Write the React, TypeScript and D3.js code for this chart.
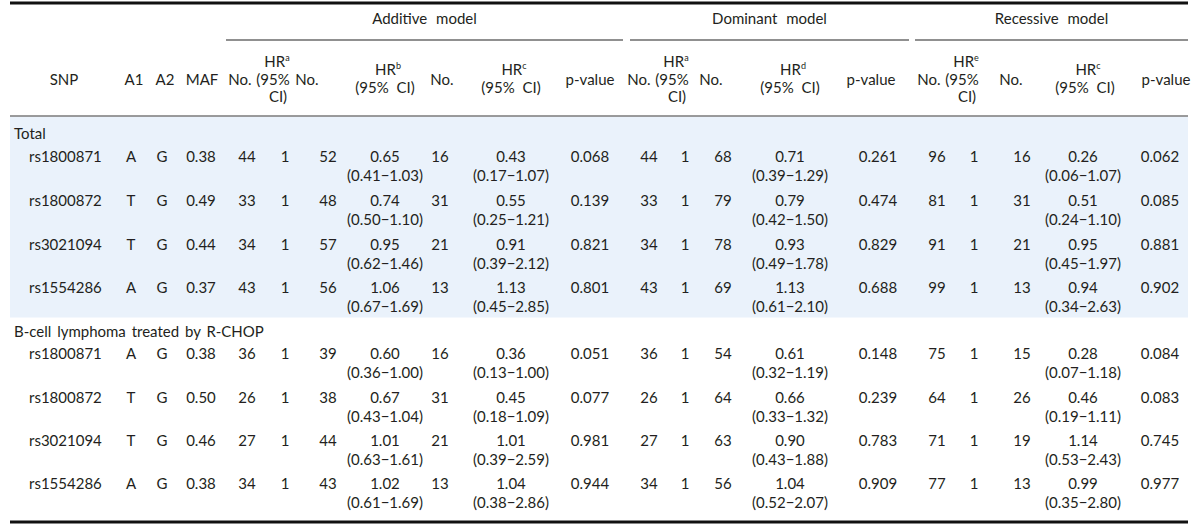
import React from "react";
import * as d3 from "d3";

// ---------- data ----------
const groups = ["Total", "B-cell lymphoma treated by R-CHOP"];
const snps = ["rs1800871", "rs1800872", "rs3021094", "rs1554286"];
const allele1 = ["A", "T", "T", "A"];
const allele2 = ["G", "G", "G", "G"];
const maf = [
  ["0.38", "0.49", "0.44", "0.37"],
  ["0.38", "0.50", "0.46", "0.38"],
];

// Additive model
const addNo1 = [[44, 33, 34, 43], [36, 26, 27, 34]];
const addNo2 = [[52, 48, 57, 56], [39, 38, 44, 43]];
const addHr2 = [["0.65", "0.74", "0.95", "1.06"], ["0.60", "0.67", "1.01", "1.02"]];
const addCi2 = [
  ["0.41−1.03", "0.50−1.10", "0.62−1.46", "0.67−1.69"],
  ["0.36−1.00", "0.43−1.04", "0.63−1.61", "0.61−1.69"],
];
const addNo3 = [[16, 31, 21, 13], [16, 31, 21, 13]];
const addHr3 = [["0.43", "0.55", "0.91", "1.13"], ["0.36", "0.45", "1.01", "1.04"]];
const addCi3 = [
  ["0.17−1.07", "0.25−1.21", "0.39−2.12", "0.45−2.85"],
  ["0.13−1.00", "0.18−1.09", "0.39−2.59", "0.38−2.86"],
];
const addP = [["0.068", "0.139", "0.821", "0.801"], ["0.051", "0.077", "0.981", "0.944"]];

// Dominant model
const domNo1 = [[44, 33, 34, 43], [36, 26, 27, 34]];
const domNo2 = [[68, 79, 78, 69], [54, 64, 63, 56]];
const domHr = [["0.71", "0.79", "0.93", "1.13"], ["0.61", "0.66", "0.90", "1.04"]];
const domCi = [
  ["0.39−1.29", "0.42−1.50", "0.49−1.78", "0.61−2.10"],
  ["0.32−1.19", "0.33−1.32", "0.43−1.88", "0.52−2.07"],
];
const domP = [["0.261", "0.474", "0.829", "0.688"], ["0.148", "0.239", "0.783", "0.909"]];

// Recessive model
const recNo1 = [[96, 81, 91, 99], [75, 64, 71, 77]];
const recNo2 = [[16, 31, 21, 13], [15, 26, 19, 13]];
const recHr = [["0.26", "0.51", "0.95", "0.94"], ["0.28", "0.46", "1.14", "0.99"]];
const recCi = [
  ["0.06−1.07", "0.24−1.10", "0.45−1.97", "0.34−2.63"],
  ["0.07−1.18", "0.19−1.11", "0.53−2.43", "0.35−2.80"],
];
const recP = [["0.062", "0.085", "0.881", "0.902"], ["0.084", "0.083", "0.745", "0.977"]];

const models = ["Additive model", "Dominant model", "Recessive model"];

// ---------- layout ----------
const W = 1200;
const H = 527;
const FONT = "Lato, 'Open Sans', 'Noto Sans', sans-serif";
const FS = 15;
const TXT = "#231f20";

const colKeys = [
  "snp", "a1", "a2", "maf",
  "addNo1", "addHr1", "addNo2", "addHr2", "addNo3", "addHr3", "addP",
  "domNo1", "domHr1", "domNo2", "domHr2", "domP",
  "recNo1", "recHr1", "recNo2", "recHr2", "recP",
];
const dataX = d3.scaleOrdinal<string, number>().domain(colKeys).range([
  29, 131, 162, 201,
  247, 285, 328, 385, 440, 511, 590,
  649, 685, 723, 790, 878,
  937, 974, 1022, 1083, 1160,
]);
const headX = d3.scaleOrdinal<string, number>().domain(colKeys).range([
  64, 134, 165, 202,
  240, 273, 307, 385, 442, 511, 590,
  639, 672, 711, 790, 871,
  929, 962, 1011, 1085, 1166,
]);

const modelSpan = d3.scaleOrdinal<string, [number, number]>().domain(models).range([
  [226, 623],
  [630, 909],
  [915, 1188],
]);

const groupLabelY = d3.scaleOrdinal<string, number>().domain(groups).range([134, 332]);
const rowYs = [
  d3.scaleLinear().domain([0, 3]).range([157, 288]),
  d3.scaleLinear().domain([0, 3]).range([354, 484]),
];
const CI_DY = 19;

const T = ({ x, y, children, anchor = "middle", size = FS, ws = 0 }: any) => (
  <text
    x={x}
    y={y}
    dy="0.35em"
    textAnchor={anchor}
    fontSize={size}
    fill={TXT}
    fontFamily={FONT}
    wordSpacing={ws}
  >
    {children}
  </text>
);

const HR = ({ x, y, sup }: any) => (
  <text x={x} y={y} dy="0.35em" textAnchor="middle" fontSize={FS} fill={TXT} fontFamily={FONT}>
    HR
    <tspan fontSize={9} dy="-6">{sup}</tspan>
  </text>
);

export default function App() {
  const head3 = (key: string, sup: string) => {
    const x = headX(key);
    return (
      <g key={key}>
        <HR x={x + 4} y={62} sup={sup} />
        <T x={x} y={80}>(95%</T>
        <T x={x + 5} y={97}>CI)</T>
      </g>
    );
  };
  const head2 = (key: string, sup: string) => {
    const x = headX(key);
    return (
      <g key={key}>
        <HR x={x + 3} y={70} sup={sup} />
        <T x={x} y={88} ws={4}>(95% CI)</T>
      </g>
    );
  };
  const head1 = (key: string, label: string) => (
    <T key={key} x={headX(key)} y={80}>{label}</T>
  );

  const rows: any[] = [];
  groups.forEach((g, gi) => {
    const ys = rowYs[gi];
    snps.forEach((s, i) => {
      const y = ys(i);
      const cells: [string, any][] = [
        ["a1", allele1[i]],
        ["a2", allele2[i]],
        ["maf", maf[gi][i]],
        ["addNo1", addNo1[gi][i]],
        ["addHr1", 1],
        ["addNo2", addNo2[gi][i]],
        ["addHr2", addHr2[gi][i]],
        ["addNo3", addNo3[gi][i]],
        ["addHr3", addHr3[gi][i]],
        ["addP", addP[gi][i]],
        ["domNo1", domNo1[gi][i]],
        ["domHr1", 1],
        ["domNo2", domNo2[gi][i]],
        ["domHr2", domHr[gi][i]],
        ["domP", domP[gi][i]],
        ["recNo1", recNo1[gi][i]],
        ["recHr1", 1],
        ["recNo2", recNo2[gi][i]],
        ["recHr2", recHr[gi][i]],
        ["recP", recP[gi][i]],
      ];
      const cis: [string, string][] = [
        ["addHr2", addCi2[gi][i]],
        ["addHr3", addCi3[gi][i]],
        ["domHr2", domCi[gi][i]],
        ["recHr2", recCi[gi][i]],
      ];
      rows.push(
        <g key={`${gi}-${i}`}>
          <T x={dataX("snp")} y={y} anchor="start">{s}</T>
          {cells.map(([k, v]) => (
            <T key={k} x={dataX(k)} y={y}>{v}</T>
          ))}
          {cis.map(([k, v]) => (
            <T key={k + "ci"} x={dataX(k)} y={y + CI_DY}>({v})</T>
          ))}
        </g>
      );
    });
  });

  return (
    <div style={{ position: "absolute", left: 0, top: 0 }}>
      <svg width={W} height={H} style={{ display: "block", background: "#fff" }}>
        {/* shaded Total block */}
        <rect x={10} y={116.5} width={1178} height={201} fill="#eaf2fb" />

        {/* rules */}
        <line x1={10} x2={1188} y1={3} y2={3} stroke="#111" strokeWidth={3} />
        <line x1={10} x2={1188} y1={116} y2={116} stroke="#7a7a7a" strokeWidth={1.5} />
        <line x1={10} x2={1188} y1={522} y2={522} stroke="#111" strokeWidth={3} />

        {/* model headers */}
        {models.map((m) => {
          const [a, b] = modelSpan(m);
          return (
            <g key={m}>
              <T x={(a + b) / 2} y={19} ws={5}>{m}</T>
              <line x1={a} x2={b} y1={40} y2={40} stroke="#222" strokeWidth={1.2} />
            </g>
          );
        })}

        {/* column headers */}
        {head1("snp", "SNP")}
        {head1("a1", "A1")}
        {head1("a2", "A2")}
        {head1("maf", "MAF")}
        {head1("addNo1", "No.")}
        {head3("addHr1", "a")}
        {head1("addNo2", "No.")}
        {head2("addHr2", "b")}
        {head1("addNo3", "No.")}
        {head2("addHr3", "c")}
        {head1("addP", "p-value")}
        {head1("domNo1", "No.")}
        {head3("domHr1", "a")}
        {head1("domNo2", "No.")}
        {head2("domHr2", "d")}
        {head1("domP", "p-value")}
        {head1("recNo1", "No.")}
        {head3("recHr1", "e")}
        {head1("recNo2", "No.")}
        {head2("recHr2", "c")}
        {head1("recP", "p-value")}

        {/* group labels */}
        {groups.map((g) => (
          <T key={g} x={14} y={groupLabelY(g)} anchor="start" ws={2}>{g}</T>
        ))}

        {rows}
      </svg>
    </div>
  );
}
